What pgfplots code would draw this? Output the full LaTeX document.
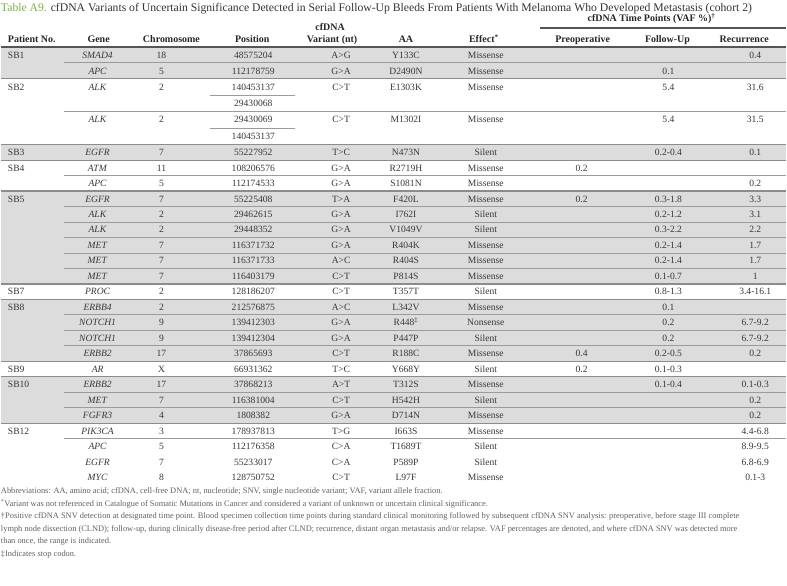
\documentclass[border=0pt]{standalone}
\usepackage{pgfplots}
\pgfplotsset{compat=1.18}
\usepackage{fontspec}
\setmainfont{Liberation Serif}
\definecolor{shade}{RGB}{220,220,220}
\definecolor{sep}{RGB}{140,140,140}
\definecolor{sub}{RGB}{155,155,155}
\definecolor{hdr}{RGB}{85,85,85}
\definecolor{txt}{RGB}{55,55,55}
\definecolor{fn}{RGB}{95,95,95}
\definecolor{tgreen}{RGB}{122,176,64}
\tikzset{c/.style={anchor=base, inner sep=0pt, text=txt, font=\fontsize{9.6}{10}\selectfont},
  l/.style={c, anchor=base west},
  h/.style={c, font=\fontsize{10}{11}\selectfont\bfseries, text=black!85},
  f/.style={anchor=base west, inner sep=0pt, text=fn, font=\fontsize{8.4}{9}\selectfont}}
\newcommand{\RA}[6]{%
  \node[c] at (axis cs:97,#1) {\textit{#2}};
  \node[c] at (axis cs:161,#1) {#3};
  \node[c] at (axis cs:253,#1) {#4};
  \node[c] at (axis cs:341,#1) {#5};
  \node[c] at (axis cs:406,#1) {#6};}
\newcommand{\RB}[5]{%
  \node[c] at (axis cs:486,#1) {#2};
  \node[c] at (axis cs:582,#1) {#3};
  \node[c] at (axis cs:669,#1) {#4};
  \node[c] at (axis cs:756,#1) {#5};}
\newcommand{\PT}[2]{\node[l] at (axis cs:7,#1) {#2};}
\newcommand{\Band}[2]{\addplot[fill=shade, draw=none] coordinates {(0,#1) (787,#1) (787,#2) (0,#2)} -- cycle;}
\newcommand{\Sep}[1]{\addplot[draw=sep, line width=1.3pt] coordinates {(0,#1) (787,#1)};}
\newcommand{\Sub}[1]{\addplot[draw=sub, line width=0.8pt] coordinates {(63,#1) (787,#1)};}
\begin{document}
\begin{tikzpicture}
\begin{axis}[x=1pt, y=1pt, y dir=reverse, xmin=0, xmax=787, ymin=0, ymax=587,
  hide axis, clip=false, scale only axis]
\addplot[draw=none] coordinates {(0,0) (787,587)};
% shaded bands
\Band{47}{79}
\Band{145}{160.5}
\Band{191.5}{284.5}
\Band{300}{362}
\Band{377.5}{424}
% group separators
\Sep{79}\Sep{145}\Sep{160.5}\Sep{191.5}\Sep{284.5}\Sep{300}\Sep{362}\Sep{377.5}\Sep{424}
% sub-row lines
\Sub{63}\Sub{112}\Sub{176}\Sub{207}\Sub{222.5}\Sub{238}\Sub{253.5}\Sub{269}
\Sub{315.5}\Sub{331}\Sub{346.5}\Sub{393}\Sub{408.5}\Sub{439.5}
\addplot[draw=sub, line width=0.8pt] coordinates {(210,95.5) (295,95.5)};
\addplot[draw=sub, line width=0.8pt] coordinates {(210,128.5) (295,128.5)};
% header rules
\addplot[draw=hdr, line width=1.6pt] coordinates {(0,47) (787,47)};
\addplot[draw=hdr, line width=1.2pt] coordinates {(540,28) (787,28)};
% title
\node[anchor=base west, inner sep=0pt, text=black!80, font=\fontsize{11.7}{13}\selectfont] at (axis cs:0,11.5)
  {\textcolor{tgreen}{Table A9.} cfDNA Variants of Uncertain Significance Detected in Serial Follow-Up Bleeds From Patients With Melanoma Who Developed Metastasis (cohort 2)};
% headers
\node[h, anchor=base west] at (axis cs:7,43) {Patient No.};
\node[h] at (axis cs:98,43) {Gene};
\node[h] at (axis cs:171,43) {Chromosome};
\node[h] at (axis cs:252,43) {Position};
\node[h] at (axis cs:330,31) {cfDNA};
\node[h] at (axis cs:332,43) {Variant (nt)};
\node[h] at (axis cs:406,43) {AA};
\node[h] at (axis cs:484,43) {Effect\textsuperscript{*}};
\node[h] at (axis cs:652,22) {cfDNA Time Points (VAF \%)\textsuperscript{†}};
\node[h] at (axis cs:583,43) {Preoperative};
\node[h] at (axis cs:668,43) {Follow-Up};
\node[h] at (axis cs:745,43) {Recurrence};
% patients
\PT{58.2}{SB1}\PT{90.2}{SB2}\PT{155.95}{SB3}\PT{171.45}{SB4}\PT{202.45}{SB5}
\PT{295.45}{SB7}\PT{310.95}{SB8}\PT{372.95}{SB9}\PT{388.45}{SB10}\PT{434.95}{SB12}
% rows
\RA{58.2}{SMAD4}{18}{48575204}{A>G}{Y133C}\RB{58.2}{Missense}{}{}{0.4}
\RA{74.2}{APC}{5}{112178759}{G>A}{D2490N}\RB{74.2}{Missense}{}{0.1}{}
\RA{90.2}{ALK}{2}{140453137}{C>T}{E1303K}\RB{90.2}{Missense}{}{5.4}{31.6}
\node[c] at (axis cs:253,106.7) {29430068};
\RA{123.2}{ALK}{2}{29430069}{C>T}{M1302I}\RB{123.2}{Missense}{}{5.4}{31.5}
\node[c] at (axis cs:253,139.7) {140453137};
\RA{155.95}{EGFR}{7}{55227952}{T>C}{N473N}\RB{155.95}{Silent}{}{0.2-0.4}{0.1}
\RA{171.45}{ATM}{11}{108206576}{G>A}{R2719H}\RB{171.45}{Missense}{0.2}{}{}
\RA{186.95}{APC}{5}{112174533}{G>A}{S1081N}\RB{186.95}{Missense}{}{}{0.2}
\RA{202.45}{EGFR}{7}{55225408}{T>A}{F420L}\RB{202.45}{Missense}{0.2}{0.3-1.8}{3.3}
\RA{217.95}{ALK}{2}{29462615}{G>A}{I762I}\RB{217.95}{Silent}{}{0.2-1.2}{3.1}
\RA{233.45}{ALK}{2}{29448352}{G>A}{V1049V}\RB{233.45}{Silent}{}{0.3-2.2}{2.2}
\RA{248.95}{MET}{7}{116371732}{G>A}{R404K}\RB{248.95}{Missense}{}{0.2-1.4}{1.7}
\RA{264.45}{MET}{7}{116371733}{A>C}{R404S}\RB{264.45}{Missense}{}{0.2-1.4}{1.7}
\RA{279.95}{MET}{7}{116403179}{C>T}{P814S}\RB{279.95}{Missense}{}{0.1-0.7}{1}
\RA{295.45}{PROC}{2}{128186207}{C>T}{T357T}\RB{295.45}{Silent}{}{0.8-1.3}{3.4-16.1}
\RA{310.95}{ERBB4}{2}{212576875}{A>C}{L342V}\RB{310.95}{Missense}{}{0.1}{}
\RA{326.45}{NOTCH1}{9}{139412303}{G>A}{R448\textsuperscript{‡}}\RB{326.45}{Nonsense}{}{0.2}{6.7-9.2}
\RA{341.95}{NOTCH1}{9}{139412304}{G>A}{P447P}\RB{341.95}{Silent}{}{0.2}{6.7-9.2}
\RA{357.45}{ERBB2}{17}{37865693}{C>T}{R188C}\RB{357.45}{Missense}{0.4}{0.2-0.5}{0.2}
\RA{372.95}{AR}{X}{66931362}{T>C}{Y668Y}\RB{372.95}{Silent}{0.2}{0.1-0.3}{}
\RA{388.45}{ERBB2}{17}{37868213}{A>T}{T312S}\RB{388.45}{Missense}{}{0.1-0.4}{0.1-0.3}
\RA{403.95}{MET}{7}{116381004}{C>T}{H542H}\RB{403.95}{Silent}{}{}{0.2}
\RA{419.45}{FGFR3}{4}{1808382}{G>A}{D714N}\RB{419.45}{Missense}{}{}{0.2}
\RA{434.95}{PIK3CA}{3}{178937813}{T>G}{I663S}\RB{434.95}{Missense}{}{}{4.4-6.8}
\RA{450.45}{APC}{5}{112176358}{C>A}{T1689T}\RB{450.45}{Silent}{}{}{8.9-9.5}
\RA{465.95}{EGFR}{7}{55233017}{C>A}{P589P}\RB{465.95}{Silent}{}{}{6.8-6.9}
\RA{481.45}{MYC}{8}{128750752}{C>T}{L97F}\RB{481.45}{Missense}{}{}{0.1-3}
% footnotes
\node[f] at (axis cs:0,494.7) {Abbreviations: AA, amino acid; cfDNA, cell-free DNA; nt, nucleotide; SNV, single nucleotide variant; VAF, variant allele fraction.};
\node[f] at (axis cs:0,507.2) {\textsuperscript{*}Variant was not referenced in Catalogue of Somatic Mutations in Cancer and considered a variant of unknown or uncertain clinical significance.};
\node[f] at (axis cs:0,519.7) {†Positive cfDNA SNV detection at designated time point. Blood specimen collection time points during standard clinical monitoring followed by subsequent cfDNA SNV analysis: preoperative, before stage III complete};
\node[f] at (axis cs:0,532.2) {lymph node dissection (CLND); follow-up, during clinically disease-free period after CLND; recurrence, distant organ metastasis and/or relapse. VAF percentages are denoted, and where cfDNA SNV was detected more};
\node[f] at (axis cs:0,544.7) {than once, the range is indicated.};
\node[f] at (axis cs:0,557.2) {‡Indicates stop codon.};
\end{axis}
\end{tikzpicture}
\end{document}
